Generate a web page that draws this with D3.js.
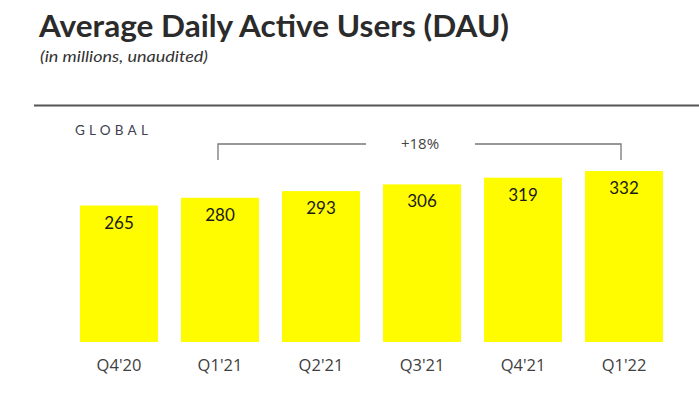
<!DOCTYPE html>
<html>
<head>
<meta charset="utf-8">
<script src="https://cdn.jsdelivr.net/npm/d3@7"></script>
<style>
  html, body { margin: 0; padding: 0; background: #fff; }
  svg { display: block; }
</style>
</head>
<body>
<svg id="chart" width="699" height="395"></svg>
<script>
const categories = ["Q4'20", "Q1'21", "Q2'21", "Q3'21", "Q4'21", "Q1'22"];
const dau = [265, 280, 293, 306, 319, 332];
const growthLabel = "+18%";
const titleText = "Average Daily Active Users (DAU)";
const subtitleText = "(in millions, unaudited)";
const regionLabel = "GLOBAL";

const svg = d3.select("#chart");

// Title
svg.append("text")
  .attr("x", 39).attr("y", 37)
  .attr("font-family", "Lato, 'Open Sans', sans-serif")
  .attr("font-weight", 700)
  .attr("font-size", 30)
  .attr("fill", "#2b2b2b")
  .attr("textLength", 470)
  .attr("lengthAdjust", "spacingAndGlyphs")
  .text(titleText);

svg.append("text")
  .attr("x", 40).attr("y", 62)
  .attr("font-family", "Lato, 'Open Sans', sans-serif")
  .attr("font-style", "italic")
  .attr("font-size", 15.5)
  .attr("fill", "#333")
  .attr("textLength", 168)
  .attr("lengthAdjust", "spacingAndGlyphs")
  .text(subtitleText);

svg.append("line")
  .attr("x1", 34).attr("x2", 699)
  .attr("y1", 105.5).attr("y2", 105.5)
  .attr("stroke", "#555").attr("stroke-width", 2);

svg.append("text")
  .attr("x", 75).attr("y", 135)
  .attr("font-family", "Lato, 'Open Sans', sans-serif")
  .attr("font-size", 13.5)
  .attr("letter-spacing", 4.2)
  .attr("fill", "#3d4250")
  .text(regionLabel);

const x = d3.scaleBand().domain(categories).range([80, 663]).paddingInner(0.228).paddingOuter(0);
const y = d3.scaleLinear().domain([0, 332]).range([342, 171]);

svg.append("g").selectAll("rect")
  .data(dau)
  .join("rect")
  .attr("x", (d, i) => x(categories[i]))
  .attr("y", d => y(d))
  .attr("width", x.bandwidth())
  .attr("height", d => y(0) - y(d))
  .attr("fill", "#fffc00");

svg.append("g").selectAll("text")
  .data(dau)
  .join("text")
  .attr("x", (d, i) => x(categories[i]) + x.bandwidth() / 2)
  .attr("y", d => y(d) + 23)
  .attr("text-anchor", "middle")
  .attr("font-family", "Lato, 'Open Sans', sans-serif")
  .attr("font-size", 17)
  .attr("fill", "#1a1a1a")
  .text(d => d);

// x axis labels
const xAxis = d3.axisBottom(x).tickSize(0).tickPadding(0);
const gx = svg.append("g").attr("transform", "translate(0,371)").call(xAxis);
gx.select(".domain").remove();
gx.selectAll("text")
  .attr("dy", 0)
  .attr("font-family", "'Open Sans', 'Noto Sans', sans-serif")
  .attr("font-size", 16.5)
  .attr("fill", "#404040");

// bracket
const xa = x(categories[1]) + x.bandwidth() / 2 - 2;
const xb = x(categories[categories.length - 1]) + x.bandwidth() / 2 - 3;
const by = 144, btick = 160;
const midX = 420;
const gapHalf = 54;
const bracket = svg.append("g").attr("stroke", "#777").attr("stroke-width", 1.3).attr("fill", "none");
bracket.append("path").attr("d", `M${xa},${btick}V${by}H${midX - gapHalf}`);
bracket.append("path").attr("d", `M${midX + gapHalf + 1},${by}H${xb}V${btick}`);
svg.append("text")
  .attr("x", midX).attr("y", 149)
  .attr("text-anchor", "middle")
  .attr("font-family", "'Open Sans', 'Noto Sans', sans-serif")
  .attr("font-size", 15)
  .attr("fill", "#444")
  .text(growthLabel);
</script>
</body>
</html>
